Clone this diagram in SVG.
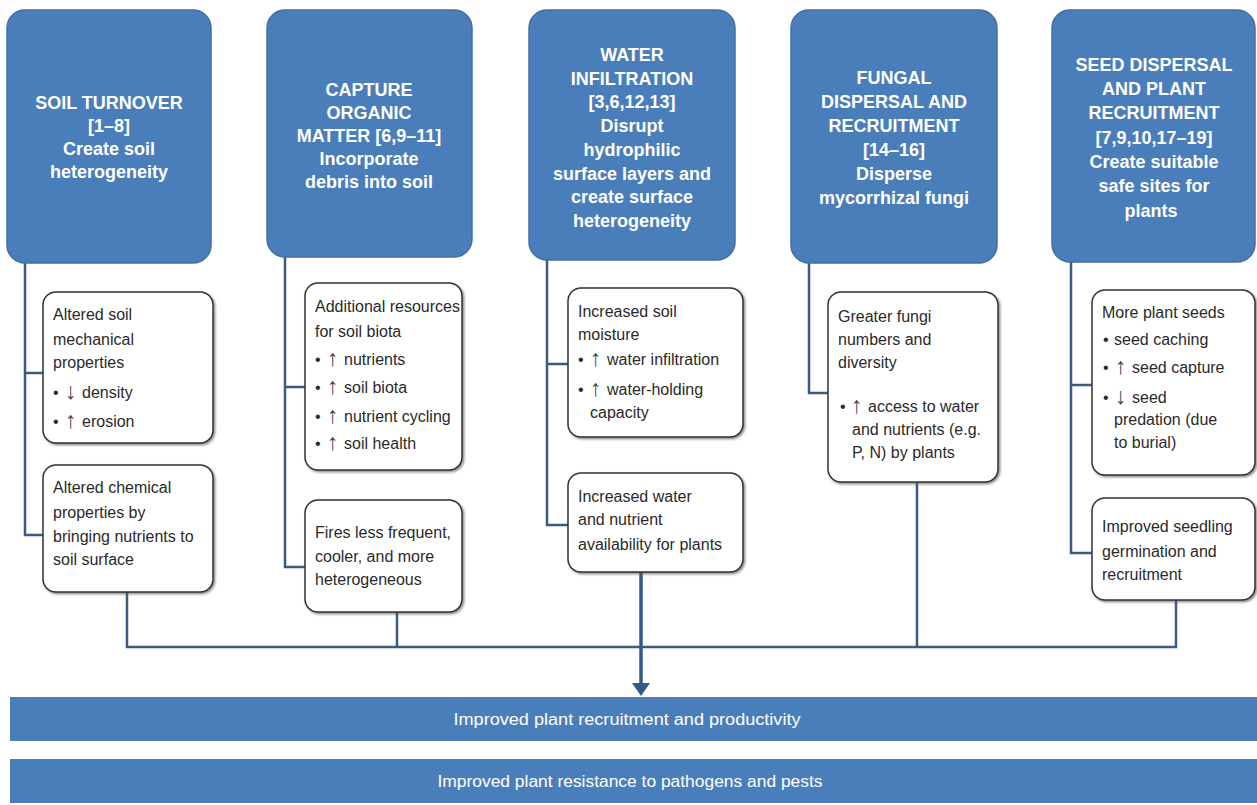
<svg xmlns="http://www.w3.org/2000/svg" width="1257" height="805" viewBox="0 0 1257 805">
<defs>
<filter id="sh" x="-5%" y="-5%" width="115%" height="115%"><feDropShadow dx="1.5" dy="1.5" stdDeviation="1" flood-color="#555" flood-opacity="0.7"/></filter>
</defs>
<style>
.hdr{fill:#4a7ebb;stroke:#41709f;stroke-width:1.5}
.ht{font-family:"Liberation Sans",Arial,sans-serif;font-size:18px;font-weight:bold;fill:#fff;text-anchor:middle}
.box{fill:#fff;stroke:#333;stroke-width:1.5;filter:url(#sh)}
.bt{font-family:"Liberation Sans",Arial,sans-serif;font-size:16px;fill:#2a2a2a}
.ar{font-size:23px;fill:#444}
.ln{fill:none;stroke:#3a5a80;stroke-width:2.5}
.bar{fill:#4a7ebb}
.bar2{font-family:"Liberation Sans",Arial,sans-serif;font-size:16px;fill:#fff;text-anchor:middle}
</style>
<rect width="1257" height="805" fill="#fff"/>

<g id="connectors">
<path class="ln" d="M25,263 V535 H43 M25,373 H43"/>
<path class="ln" d="M285,257 V567 H305 M285,387 H305"/>
<path class="ln" d="M547,260 V525 H568 M547,364 H568"/>
<path class="ln" d="M809,263 V393 H828"/>
<path class="ln" d="M1071,262 V553 H1092 M1071,385 H1092"/>
<path class="ln" d="M127,592 V647 H1176 V600 M397,612 V647 M917,482 V647"/>
<path d="M641,572 V684" fill="none" stroke="#2f5a8a" stroke-width="3.5"/>
<path d="M632,683 L650,683 L641,696 Z" fill="#2f5a8a"/>
</g>

<g id="h1"><rect class="hdr" x="7" y="10" width="204" height="253" rx="18"/>
<text class="ht"><tspan x="109" y="109">SOIL TURNOVER</tspan><tspan x="109" y="132">[1–8]</tspan><tspan x="109" y="155">Create soil</tspan><tspan x="109" y="178">heterogeneity</tspan></text></g>
<g id="h2"><rect class="hdr" x="267" y="10" width="205" height="247" rx="18"/>
<text class="ht"><tspan x="369" y="96">CAPTURE</tspan><tspan x="369" y="119">ORGANIC</tspan><tspan x="369" y="142">MATTER [6,9–11]</tspan><tspan x="369" y="165">Incorporate</tspan><tspan x="369" y="188">debris into soil</tspan></text></g>
<g id="h3"><rect class="hdr" x="529" y="10" width="206" height="250" rx="18"/>
<text class="ht"><tspan x="632" y="61">WATER</tspan><tspan x="632" y="85">INFILTRATION</tspan><tspan x="632" y="108">[3,6,12,13]</tspan><tspan x="632" y="132">Disrupt</tspan><tspan x="632" y="156">hydrophilic</tspan><tspan x="632" y="180">surface layers and</tspan><tspan x="632" y="203">create surface</tspan><tspan x="632" y="227">heterogeneity</tspan></text></g>
<g id="h4"><rect class="hdr" x="791" y="10" width="206" height="253" rx="18"/>
<text class="ht"><tspan x="894" y="84">FUNGAL</tspan><tspan x="894" y="108">DISPERSAL AND</tspan><tspan x="894" y="132">RECRUITMENT</tspan><tspan x="894" y="156">[14–16]</tspan><tspan x="894" y="180">Disperse</tspan><tspan x="894" y="204">mycorrhizal fungi</tspan></text></g>
<g id="h5"><rect class="hdr" x="1052" y="10" width="203" height="252" rx="18"/>
<text class="ht"><tspan x="1154" y="71">SEED DISPERSAL</tspan><tspan x="1154" y="95">AND PLANT</tspan><tspan x="1154" y="119">RECRUITMENT</tspan><tspan x="1154" y="144">[7,9,10,17–19]</tspan><tspan x="1154" y="168">Create suitable</tspan><tspan x="1154" y="192">safe sites for</tspan><tspan x="1151" y="217">plants</tspan></text></g>

<g id="b1a"><rect class="box" x="43" y="292" width="170" height="151" rx="13"/>
<text class="bt"><tspan x="53" y="320">Altered soil</tspan><tspan x="53" y="345">mechanical</tspan><tspan x="53" y="368">properties</tspan>
<tspan x="53" y="398">•</tspan><tspan class="ar" x="65" y="399">↓</tspan><tspan x="82" y="398">density</tspan>
<tspan x="53" y="427">•</tspan><tspan class="ar" x="65" y="428">↑</tspan><tspan x="82" y="427">erosion</tspan></text></g>
<g id="b1b"><rect class="box" x="43" y="465" width="170" height="127" rx="13"/>
<text class="bt"><tspan x="53" y="493">Altered chemical</tspan><tspan x="53" y="518">properties by</tspan><tspan x="53" y="542">bringing nutrients to</tspan><tspan x="53" y="565">soil surface</tspan></text></g>

<g id="b2a"><rect class="box" x="305" y="283" width="157" height="187" rx="13"/>
<text class="bt"><tspan x="315" y="312">Additional resources</tspan><tspan x="315" y="337">for soil biota</tspan>
<tspan x="315" y="365">•</tspan><tspan class="ar" x="327" y="366">↑</tspan><tspan x="344" y="365">nutrients</tspan>
<tspan x="315" y="393">•</tspan><tspan class="ar" x="327" y="394">↑</tspan><tspan x="344" y="393">soil biota</tspan>
<tspan x="315" y="422">•</tspan><tspan class="ar" x="327" y="423">↑</tspan><tspan x="344" y="422">nutrient cycling</tspan>
<tspan x="315" y="449">•</tspan><tspan class="ar" x="327" y="450">↑</tspan><tspan x="344" y="449">soil health</tspan></text></g>
<g id="b2b"><rect class="box" x="305" y="500" width="157" height="112" rx="13"/>
<text class="bt"><tspan x="315" y="538">Fires less frequent,</tspan><tspan x="315" y="562">cooler, and more</tspan><tspan x="315" y="585">heterogeneous</tspan></text></g>

<g id="b3a"><rect class="box" x="568" y="288" width="175" height="149" rx="13"/>
<text class="bt"><tspan x="578" y="317">Increased soil</tspan><tspan x="578" y="340">moisture</tspan>
<tspan x="578" y="365">•</tspan><tspan class="ar" x="590" y="366">↑</tspan><tspan x="607" y="365">water infiltration</tspan>
<tspan x="578" y="395">•</tspan><tspan class="ar" x="590" y="396">↑</tspan><tspan x="607" y="395">water-holding</tspan>
<tspan x="590" y="418">capacity</tspan></text></g>
<g id="b3b"><rect class="box" x="568" y="473" width="175" height="99" rx="13"/>
<text class="bt"><tspan x="578" y="502">Increased water</tspan><tspan x="578" y="525">and nutrient</tspan><tspan x="578" y="550">availability for plants</tspan></text></g>

<g id="b4"><rect class="box" x="828" y="292" width="170" height="190" rx="13"/>
<text class="bt"><tspan x="838" y="322">Greater fungi</tspan><tspan x="838" y="345">numbers and</tspan><tspan x="838" y="368">diversity</tspan>
<tspan x="840" y="412">•</tspan><tspan class="ar" x="851" y="413">↑</tspan><tspan x="868" y="412">access to water</tspan>
<tspan x="852" y="435">and nutrients (e.g.</tspan><tspan x="852" y="458">P, N) by plants</tspan></text></g>

<g id="b5a"><rect class="box" x="1092" y="290" width="163" height="185" rx="13"/>
<text class="bt"><tspan x="1102" y="318">More plant seeds</tspan>
<tspan x="1103" y="345">•</tspan><tspan x="1114" y="345">seed caching</tspan>
<tspan x="1103" y="373">•</tspan><tspan class="ar" x="1115" y="374">↑</tspan><tspan x="1132" y="373">seed capture</tspan>
<tspan x="1103" y="403">•</tspan><tspan class="ar" x="1115" y="404">↓</tspan><tspan x="1132" y="403">seed</tspan>
<tspan x="1114" y="425">predation (due</tspan><tspan x="1114" y="448">to burial)</tspan></text></g>
<g id="b5b"><rect class="box" x="1092" y="498" width="163" height="102" rx="13"/>
<text class="bt"><tspan x="1102" y="532">Improved seedling</tspan><tspan x="1102" y="557">germination and</tspan><tspan x="1102" y="580">recruitment</tspan></text></g>

<g id="bar1"><rect class="bar" x="10" y="697" width="1247" height="44"/>
<text class="bar2" x="627" y="725" textLength="347" lengthAdjust="spacingAndGlyphs">Improved plant recruitment and productivity</text></g>
<g id="bar2"><rect class="bar" x="10" y="759" width="1247" height="44"/>
<text class="bar2" x="630" y="787" textLength="385" lengthAdjust="spacingAndGlyphs">Improved plant resistance to pathogens and pests</text></g>
</svg>
